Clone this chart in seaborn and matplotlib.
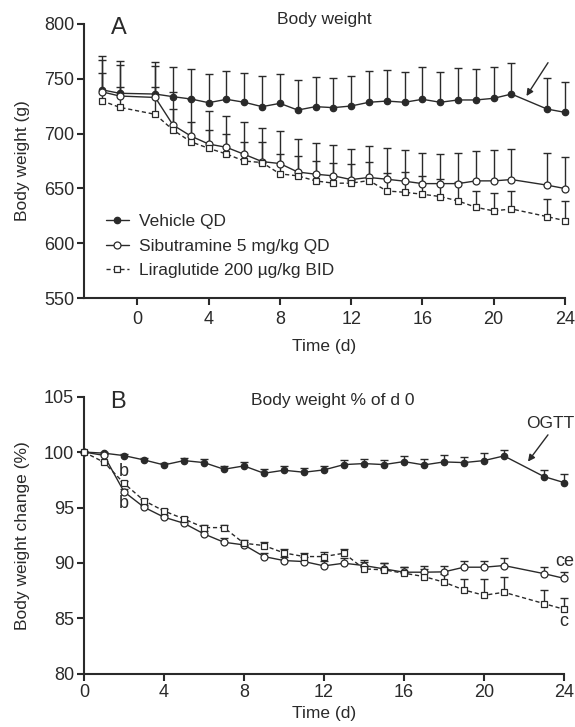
import numpy as np
import pandas as pd
import matplotlib
matplotlib.use("Agg")
import matplotlib.pyplot as plt
import seaborn as sns

# ---------------- data ----------------
days_a = [-2, -1, 1, 2, 3, 4, 5, 6, 7, 8, 9, 10, 11, 12, 13, 14, 15, 16, 17, 18, 19, 20, 21, 23, 24]
veh_a = [740.0, 736.8, 736.1, 733.7, 731.6, 728.2, 731.3, 728.6, 724.6, 727.6, 721.5, 724.6, 723.7,
         725.2, 728.6, 729.7, 728.6, 731.3, 728.6, 730.7, 730.7, 732.2, 736.1, 722.4, 719.4]
veh_a_sd = [30.8, 29.4, 28.9, 26.8, 27.3, 26.2, 26.1, 27.0, 28.2, 26.8, 27.4, 27.3, 27.3,
            27.6, 28.8, 28.3, 27.9, 29.2, 27.9, 29.4, 28.2, 28.3, 28.0, 28.6, 28.0]
sib_a = [738.2, 734.3, 733.0, 707.8, 697.8, 690.5, 687.5, 681.1, 674.5, 672.7, 665.0, 663.0, 661.5,
         658.1, 660.0, 658.4, 656.6, 654.4, 654.4, 654.4, 656.9, 656.9, 658.1, 653.0, 649.9]
sib_a_sd = [29.0, 28.3, 29.0, 30.4, 33.8, 30.4, 28.9, 29.8, 31.0, 29.9, 30.2, 28.7, 28.1,
            28.1, 29.0, 28.7, 28.4, 27.6, 26.7, 27.6, 27.2, 28.1, 28.1, 29.0, 29.0]
lira_a = [730.0, 724.0, 717.6, 703.3, 692.6, 686.6, 681.4, 675.0, 673.6, 663.3, 661.5, 656.9, 654.8,
          654.8, 657.2, 647.7, 646.5, 644.7, 642.6, 638.6, 632.8, 629.5, 631.3, 624.3, 620.6]
lira_a_sd = [25.6, 18.8, 25.0, 18.9, 18.3, 16.7, 18.0, 17.6, 19.0, 17.8, 18.1, 18.1, 18.1,
             17.5, 17.2, 16.1, 18.2, 16.3, 16.4, 17.4, 15.1, 16.6, 16.0, 16.0, 17.9]

days_b = [0, 1, 2, 3, 4, 5, 6, 7, 8, 9, 10, 11, 12, 13, 14, 15, 16, 17, 18, 19, 20, 21, 23, 24]
veh_b = [100.0, 99.9, 99.68, 99.29, 98.84, 99.23, 99.05, 98.45, 98.75, 98.09, 98.36, 98.18,
         98.39, 98.87, 98.96, 98.87, 99.14, 98.84, 99.11, 99.05, 99.23, 99.65, 97.79, 97.25]
veh_b_sd = [0.0, 0.1, 0.15, 0.15, 0.2, 0.21, 0.3, 0.33, 0.36, 0.36, 0.39, 0.39,
            0.39, 0.42, 0.42, 0.42, 0.51, 0.51, 0.63, 0.54, 0.67, 0.54, 0.6, 0.78]
sib_b = [100.0, 99.7, 96.43, 95.03, 94.13, 93.58, 92.62, 91.87, 91.63, 90.58, 90.22, 90.13,
         89.74, 89.98, 89.77, 89.47, 89.17, 89.17, 89.2, 89.62, 89.62, 89.77, 89.04, 88.62]
sib_b_sd = [0.0, 0.1, 0.2, 0.2, 0.2, 0.2, 0.25, 0.4, 0.3, 0.3, 0.35, 0.4,
            0.4, 0.45, 0.5, 0.5, 0.5, 0.55, 0.55, 0.6, 0.6, 0.65, 0.6, 0.55]
lira_b = [100.0, 99.08, 97.19, 95.62, 94.69, 93.97, 93.19, 93.19, 91.78, 91.57, 90.91, 90.58,
          90.58, 90.88, 89.47, 89.38, 89.08, 88.78, 88.27, 87.57, 87.09, 87.36, 86.34, 85.83]
lira_b_sd = [0.0, 0.1, 0.2, 0.15, 0.15, 0.15, 0.2, 0.2, 0.25, 0.3, 0.35, 0.3,
             0.4, 0.4, 0.6, 0.6, 0.6, 0.65, 0.75, 1.0, 1.5, 1.35, 1.2, 1.05]

labels = ["Vehicle QD", "Sibutramine 5 mg/kg QD", "Liraglutide 200 µg/kg BID"]

# ---------------- style ----------------
sns.set_theme(style="ticks")
plt.rcParams["font.family"] = ["Liberation Sans", "DejaVu Sans"]
ink = "#2a2a2a"
plt.rcParams.update({
    "axes.edgecolor": ink, "axes.linewidth": 1.5,
    "xtick.color": ink, "ytick.color": ink,
    "xtick.major.width": 1.5, "ytick.major.width": 1.5,
    "xtick.major.size": 5, "ytick.major.size": 5,
    "xtick.labelsize": 13, "ytick.labelsize": 13,
    "axes.labelsize": 12.5, "text.color": ink, "axes.labelcolor": ink,
})

fig = plt.figure(figsize=(5.75, 7.27), dpi=100)
axA = fig.add_axes([0.146, 0.590, 0.8365, 0.377])
axB = fig.add_axes([0.146, 0.073, 0.8348, 0.3815])

series_style = [
    dict(marker="o", markersize=4.6, markerfacecolor=ink, markeredgecolor=ink, linestyle="-"),
    dict(marker="o", markersize=5.0, markerfacecolor="white", markeredgecolor=ink, linestyle="-"),
    dict(marker="s", markersize=4.5, markerfacecolor="white", markeredgecolor=ink, linestyle=(0, (3, 2))),
]


def draw(ax, days, vals, sds, with_labels):
    for v, sd, st, lab in zip(vals, sds, series_style, labels):
        eb = ax.errorbar(days, v, yerr=[np.zeros(len(sd)), sd], fmt="none", ecolor=ink,
                         elinewidth=1.0, capsize=3.2, capthick=1.0, zorder=2, clip_on=False)
        for cl in eb[1]:
            if np.allclose(cl.get_ydata(), v):
                cl.set_visible(False)
        df = pd.DataFrame({"day": days, "val": v})
        kw = dict(label=lab) if with_labels else {}
        sns.lineplot(data=df, x="day", y="val", ax=ax, color=ink, linewidth=1.0,
                     markeredgewidth=0.9, errorbar=None, zorder=3, legend=False,
                     clip_on=False, **kw, **st)


draw(axA, days_a, [veh_a, sib_a, lira_a], [veh_a_sd, sib_a_sd, lira_a_sd], True)
draw(axB, days_b, [veh_b, sib_b, lira_b], [veh_b_sd, sib_b_sd, lira_b_sd], False)

for ax in (axA, axB):
    sns.despine(ax=ax)
    ax.set_xticks(range(0, 25, 4))
    ax.tick_params(axis="y", pad=2)

axA.set_xlim(-3, 24)
axA.set_ylim(550, 800)
axA.set_yticks(range(550, 801, 50))
axA.set_xlabel("Time (d)", labelpad=8)
axA.set_ylabel("Body weight (g)", labelpad=10)
axA.tick_params(axis="x", pad=4)

axB.set_xlim(0, 24)
axB.set_ylim(80, 105)
axB.set_yticks(range(80, 106, 5))
axB.set_xlabel("Time (d)", labelpad=4)
axB.set_ylabel("Body weight change (%)", labelpad=10)
axB.tick_params(axis="x", pad=2)

# legend
axA.legend(loc="lower left", bbox_to_anchor=(0.045, 0.072), frameon=False, fontsize=12.5,
           handlelength=1.35, handletextpad=0.55, labelspacing=0.55, borderpad=0,
           borderaxespad=0)
if axB.get_legend() is not None:
    axB.get_legend().remove()

# panel texts
axA.text(0.073, 0.985, "A", transform=axA.transAxes, fontsize=17, ha="center", va="center")
axA.text(0.50, 1.018, "Body weight", transform=axA.transAxes, fontsize=12.5, ha="center", va="center")
axA.annotate("", xy=(21.84, 734.3), xytext=(23.05, 764.7),
             arrowprops=dict(arrowstyle="-|>", color=ink, lw=1.0, mutation_scale=10,
                             shrinkA=0, shrinkB=0))

axB.text(0.07, 0.979, "B", transform=axB.transAxes, fontsize=17, ha="center", va="center")
axB.text(0.519, 0.985, "Body weight % of d 0", transform=axB.transAxes, fontsize=12.5,
         ha="center", va="center")
axB.text(23.3, 102.6, "OGTT", fontsize=12.5, ha="center", va="center")
axB.annotate("", xy=(22.2, 99.14), xytext=(23.2, 101.55),
             arrowprops=dict(arrowstyle="-|>", color=ink, lw=1.0, mutation_scale=10,
                             shrinkA=0, shrinkB=0))
axB.text(2.0, 98.24, "b", fontsize=13, ha="center", va="center")
axB.text(1.97, 95.39, "b", fontsize=13, ha="center", va="center")
axB.text(24.05, 90.12, "ce", fontsize=13, ha="center", va="center")
axB.text(24.0, 84.71, "c", fontsize=13, ha="center", va="center")

fig.savefig("out.png", dpi=100, facecolor="white")
